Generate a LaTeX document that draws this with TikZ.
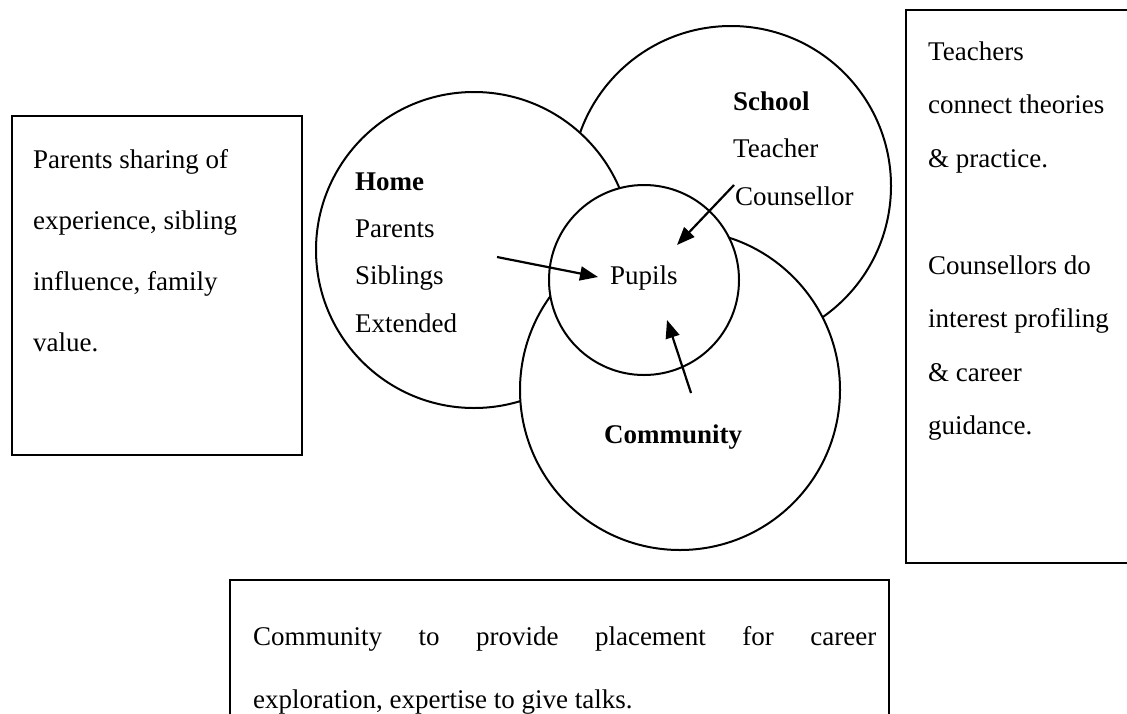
\documentclass[tikz,border=0pt]{standalone}
\usepackage{fontspec}
\setmainfont{Liberation Serif}
\usetikzlibrary{arrows.meta}
\begin{document}
\begin{tikzpicture}[x=1pt,y=-1pt,
  circ/.style={circle,draw,fill=white,line width=2pt,inner sep=0pt},
  boxline/.style={draw,line width=2pt},
  txt/.style={anchor=base west,inner sep=0pt,font=\fontsize{27}{32}\selectfont},
  btxt/.style={txt,font=\fontsize{27}{32}\selectfont\bfseries},
  arr/.style={line width=2.2pt,-{Triangle[length=18pt,width=14pt]}}]
\useasboundingbox (0,0) rectangle (1127,713);
\clip (0,0) rectangle (1127,713);
% boxes
\draw[boxline] (12,116) rectangle (302,455);
\draw[boxline] (906,10) rectangle (1140,563);
\draw[boxline] (230,580) rectangle (889,740);
% circles
\node[circ,minimum size=320pt] (school) at (731,186) {};
\node[circ,minimum size=316pt] (home) at (474,250) {};
\node[circ,minimum size=320pt] (community) at (680,390) {};
\node[circ,minimum size=190pt] (pupils) at (644,280) {};
% circle texts
\node[btxt] (homet) at (355,190) {Home};
\node[txt] (parents) at (355,237) {Parents};
\node[txt] (siblings) at (355,284) {Siblings};
\node[txt] (extended) at (355,332) {Extended};
\node[btxt] (schoolt) at (733,110) {School};
\node[txt] (teacher) at (733,157) {Teacher};
\node[txt] (counsellor) at (735,205) {Counsellor};
\node[txt] (pupilst) at (610,284) {Pupils};
\node[btxt] (communityt) at (604,443) {Community};
% arrows
\coordinate (ha) at (497,257);
\coordinate (hb) at (598,277);
\coordinate (sa) at (734,185);
\coordinate (sb) at (677,245);
\coordinate (ca) at (691,393);
\coordinate (cb) at (667,320);
\draw[arr] (ha) -- (hb);
\draw[arr] (sa) -- (sb);
\draw[arr] (ca) -- (cb);
% left box text
\node[txt] (l1) at (33,168) {Parents sharing of};
\node[txt] (l2) at (33,229) {experience, sibling};
\node[txt] (l3) at (33,290) {influence, family};
\node[txt] (l4) at (33,351) {value.};
% right box text
\node[txt] (r1) at (928,60) {Teachers};
\node[txt] (r2) at (928,113.5) {connect theories};
\node[txt] (r3) at (928,167) {\& practice.};
\node[txt] (r4) at (928,274) {Counsellors do};
\node[txt] (r5) at (928,327.5) {interest profiling};
\node[txt] (r6) at (928,381) {\& career};
\node[txt] (r7) at (928,434.5) {guidance.};
% bottom box text
\node[txt] (b1) at (253,645) {\makebox[623pt][s]{Community to provide placement for career}};
\node[txt] (b2) at (253,708) {exploration, expertise to give talks.};
\end{tikzpicture}
\end{document}
